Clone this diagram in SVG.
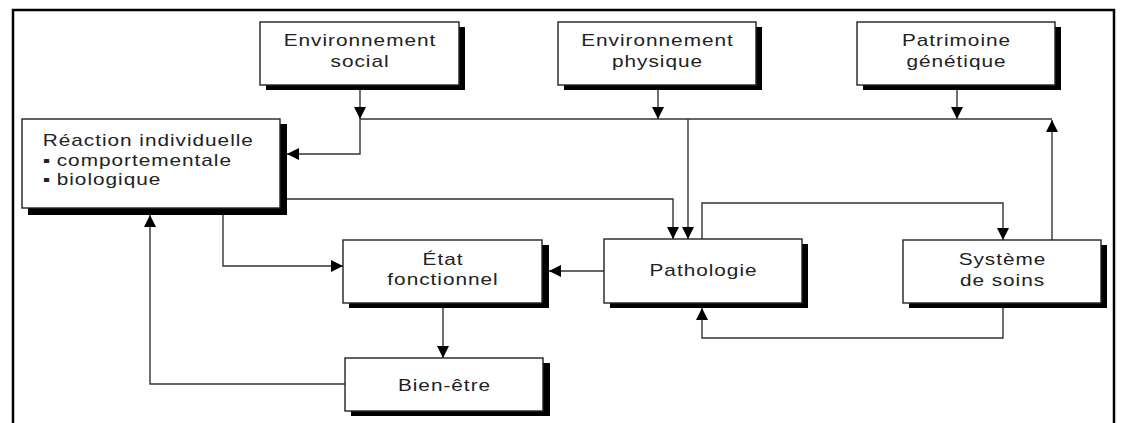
<svg xmlns="http://www.w3.org/2000/svg" width="1121" height="423" viewBox="0 0 1121 423">
  <style>
    .frame { fill: none; stroke: #000; stroke-width: 2.5; }
    .box { fill: #fff; stroke: #222; stroke-width: 1.4; }
    .shadow { fill: #000; }
    .wire { fill: none; stroke: #333; stroke-width: 1.4; }
    text { font-family: "Liberation Sans", Arial, sans-serif; font-size: 16px; fill: #222; letter-spacing: 0.75px; }
    .c { text-anchor: middle; }
  </style>
  <defs>
    <marker id="arrow" markerUnits="userSpaceOnUse" markerWidth="12" markerHeight="12" viewBox="0 0 10 10" refX="10" refY="5" orient="auto">
      <path d="M0,0 L10,5 L0,10 Z" fill="#000"/>
    </marker>
  </defs>

  <rect x="0" y="0" width="1121" height="423" fill="#fff"/>
  <!-- outer frame, open at the bottom -->
  <path class="frame" d="M13,423 V10 H1114 V423"/>

  <g id="connectors">
    <!-- inputs into the common bus -->
    <path class="wire" d="M360,90 V119" marker-end="url(#arrow)"/>
    <path class="wire" d="M658,90 V119" marker-end="url(#arrow)"/>
    <path class="wire" d="M957,90 V119" marker-end="url(#arrow)"/>
    <path class="wire" d="M360,119 H1052"/>
    <path class="wire" d="M1052,240 V120" marker-end="url(#arrow)"/>
    <!-- bus to individual reaction -->
    <path class="wire" d="M360,119 V154 H287" marker-end="url(#arrow)"/>
    <!-- bus to pathology -->
    <path class="wire" d="M688,119 V239" marker-end="url(#arrow)"/>
    <!-- individual reaction to pathology -->
    <path class="wire" d="M287,199 H673 V239" marker-end="url(#arrow)"/>
    <!-- pathology to care system -->
    <path class="wire" d="M702,239 V203 H1003 V240" marker-end="url(#arrow)"/>
    <!-- care system back to pathology -->
    <path class="wire" d="M1003,308 V338 H702 V308" marker-end="url(#arrow)"/>
    <!-- pathology to functional state -->
    <path class="wire" d="M604,271 H549" marker-end="url(#arrow)"/>
    <!-- individual reaction to functional state -->
    <path class="wire" d="M223,215 V266 H343" marker-end="url(#arrow)"/>
    <!-- functional state to well-being -->
    <path class="wire" d="M443,308 V358" marker-end="url(#arrow)"/>
    <!-- well-being back to individual reaction -->
    <path class="wire" d="M345,384 H150 V215" marker-end="url(#arrow)"/>
  </g>

  <g id="env-social">
    <rect class="shadow" x="266" y="27" width="199" height="63"/>
    <rect class="box" x="260" y="22" width="199" height="63"/>
    <g transform="translate(360 0) scale(1.3 1)">
      <text class="c" y="46.5">Environnement</text>
      <text class="c" y="67">social</text>
    </g>
  </g>

  <g id="env-physique">
    <rect class="shadow" x="564" y="27" width="198" height="63"/>
    <rect class="box" x="558" y="22" width="198" height="63"/>
    <g transform="translate(657.5 0) scale(1.3 1)">
      <text class="c" y="46.5">Environnement</text>
      <text class="c" y="67">physique</text>
    </g>
  </g>

  <g id="patrimoine">
    <rect class="shadow" x="863" y="27" width="198" height="63"/>
    <rect class="box" x="857" y="22" width="198" height="63"/>
    <g transform="translate(956.5 0) scale(1.3 1)">
      <text class="c" y="46.5">Patrimoine</text>
      <text class="c" y="67">génétique</text>
    </g>
  </g>

  <g id="reaction">
    <rect class="shadow" x="28" y="124" width="259" height="91"/>
    <rect class="box" x="22" y="119" width="258" height="89"/>
    <g transform="translate(42.7 0) scale(1.3 1)">
      <text y="146">Réaction individuelle</text>
      <text y="165.7"><tspan x="0">▪</tspan><tspan x="10.8">comportementale</tspan></text>
      <text y="185"><tspan x="0">▪</tspan><tspan x="10.8">biologique</tspan></text>
    </g>
  </g>

  <g id="etat">
    <rect class="shadow" x="349" y="245" width="200" height="63"/>
    <rect class="box" x="343" y="240" width="199" height="63"/>
    <g transform="translate(443 0) scale(1.3 1)">
      <text class="c" y="265">État</text>
      <text class="c" y="285">fonctionnel</text>
    </g>
  </g>

  <g id="bien-etre">
    <rect class="shadow" x="351" y="363" width="199" height="53"/>
    <rect class="box" x="345" y="358" width="198" height="53"/>
    <g transform="translate(444.5 0) scale(1.3 1)">
      <text class="c" y="391.5">Bien-être</text>
    </g>
  </g>

  <g id="pathologie">
    <rect class="shadow" x="610" y="244" width="198" height="64"/>
    <rect class="box" x="604" y="239" width="198" height="64"/>
    <g transform="translate(703.5 0) scale(1.3 1)">
      <text class="c" y="276.5">Pathologie</text>
    </g>
  </g>

  <g id="systeme">
    <rect class="shadow" x="909" y="245" width="198" height="63"/>
    <rect class="box" x="903" y="240" width="198" height="63"/>
    <g transform="translate(1002.5 0) scale(1.3 1)">
      <text class="c" y="265">Système</text>
      <text class="c" y="286">de soins</text>
    </g>
  </g>
</svg>
